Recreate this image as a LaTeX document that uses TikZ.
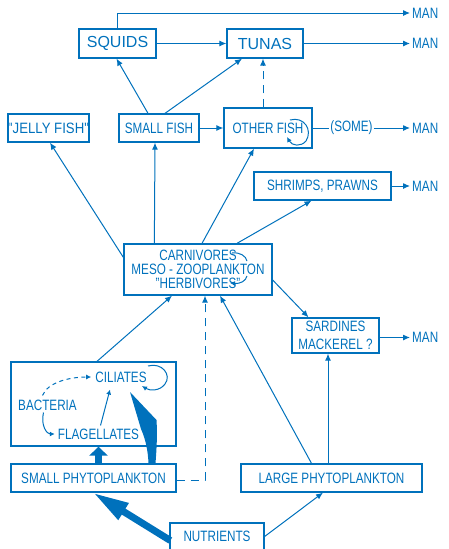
\documentclass[tikz,border=0pt]{standalone}
\usepackage{fontspec}
\setmainfont{Liberation Sans}[FakeStretch=0.78]
\newfontfamily\wideft{Liberation Sans}
\newfontfamily\midft{Liberation Sans}[FakeStretch=0.88]
\usetikzlibrary{arrows.meta,calc}
\definecolor{blu}{RGB}{0,113,188}
\begin{document}
\begin{tikzpicture}[x=1pt,y=-1pt,
  every node/.style={text=blu,font=\fontsize{15}{14}\selectfont},
  box/.style={draw=blu,line width=1.3pt,inner sep=0pt,align=center},
  lbl/.style={inner sep=0pt},
  man/.style={anchor=west,inner sep=0pt},
  ln/.style={draw=blu,line width=1pt},
  arr/.style={ln,-{Latex[length=7pt,width=6pt]}},
  sarr/.style={ln,-{Latex[length=5pt,width=5pt]}},
  dsh/.style={dash pattern=on 8pt off 6pt}]
\useasboundingbox (0,0) rectangle (448,549);

% boxes
\node[box,minimum width=77pt,minimum height=29pt,font=\wideft\fontsize{16}{18}\selectfont] (squids) at (117.5,43.5) {SQUIDS};
\node[box,minimum width=76pt,minimum height=29pt,font=\wideft\fontsize{16}{18}\selectfont] (tunas) at (265,43.5) {TUNAS};
\node[box,minimum width=81pt,minimum height=28pt,font=\midft\fontsize{15}{14}\selectfont] (jelly) at (48.5,128) {"JELLY FISH"};
\node[box,minimum width=80pt,minimum height=28pt] (smallfish) at (159,128) {SMALL FISH};
\node[box,minimum width=88pt,minimum height=40pt] (otherfish) at (268,128) {OTHER FISH};
\node[box,minimum width=137pt,minimum height=28pt] (shrimps) at (322.5,186) {SHRIMPS, PRAWNS};
\node[box,minimum width=148pt,minimum height=51pt] (carn) at (198,269.5) {CARNIVORES\\MESO - ZOOPLANKTON\\"HERBIVORES"};
\node[box,minimum width=87pt,minimum height=35pt,font=\fontsize{15}{18}\selectfont] (sardines) at (335.5,335.5) {SARDINES\\MACKEREL ?};
\node[box,minimum width=165pt,minimum height=84pt] (micro) at (93.5,404) {};
\node[box,minimum width=165pt,minimum height=28pt] (smallphyto) at (93.5,478) {SMALL PHYTOPLANKTON};
\node[box,minimum width=181pt,minimum height=28pt] (largephyto) at (331.5,478) {LARGE PHYTOPLANKTON};
\node[box,minimum width=94pt,minimum height=27pt] (nutrients) at (217,536.5) {NUTRIENTS};

% inner texts
\node[lbl] (ciliates) at (121,377) {CILIATES};
\node[lbl] (bacteria) at (47.5,405) {BACTERIA};
\node[lbl] (flagellates) at (98.5,434) {FLAGELLATES};
\node[lbl,inner sep=1pt] (some) at (351.5,128) {(SOME)};

% MAN labels
\node[man] (man1) at (412,13) {MAN};
\node[man] (man2) at (412,43.5) {MAN};
\node[man] (man3) at (412,128) {MAN};
\node[man] (man4) at (412,186) {MAN};
\node[man] (man5) at (412,337.5) {MAN};

% top connectors
\draw[arr,shorten >=2pt] (squids.north) |- (man1.west);
\draw[arr] (squids) -- (tunas);
\draw[arr,shorten >=2pt] (tunas) -- (man2.west);
\draw[arr] ([xshift=-11pt]smallfish.north) -- ([xshift=-1pt]squids.south);
\draw[arr] ([xshift=6pt]smallfish.north) -- ([xshift=-23pt]tunas.south);
\draw[arr] (smallfish) -- (otherfish);
\draw[arr,dsh] ([xshift=-5pt]otherfish.north) -- ([xshift=-2pt]tunas.south);
\draw[ln] (otherfish) -- (some);
\draw[arr,shorten >=2pt] (some) -- (man3.west);
\draw[arr,shorten >=2pt] (shrimps) -- (man4.west);
\draw[arr,shorten >=2pt] (sardines.east |- man5) -- (man5.west);

% other fish loop
\draw[sarr] (290,120) .. controls (304,116) and (313,130) .. (306,141) .. controls (301,147) and (292,146) .. (287,137);

% carnivores connectors
\draw[arr] ($(carn.north west)+(0,14)$) -- ($(jelly.south)+(1.5,0)$);
\draw[arr] ($(carn.north west)+(31,0)$) -- ($(smallfish.south)+(-4,0)$);
\draw[arr] ($(carn.north)+(4,0)$) -- ($(otherfish.south)+(-14,0)$);
\draw[arr] ($(carn.north)+(39,0)$) -- ($(shrimps.south)+(-11,0)$);
\draw[arr] ($(carn.east)+(0,10.5)$) -- ($(sardines.north)+(-27,0)$);
% carnivores loop
\draw[ln] (232,253) .. controls (240,252) and (246,256) .. (247,261);
\draw[sarr] (247,276) .. controls (246,281) and (240,284) .. (230,283);

% lower connectors
\draw[arr] ($(micro.north)+(3.5,0)$) -- ($(carn.south)+(-26,0)$);
\draw[arr,dsh] ($(smallphyto.east)+(0,2)$) -| ($(carn.south)+(7,0)$);
\draw[arr] ($(largephyto.north)+(-20,0)$) -- ($(carn.south)+(22,0)$);
\draw[arr] ($(largephyto.north)+(-3.5,0)$) -- ($(sardines.south)+(-7.5,0)$);
\draw[arr] (nutrients.east) -- ($(largephyto.south)+(-8.5,0)$);

% microbial loop
\draw[sarr,dash pattern=on 4pt off 3.5pt] ([xshift=-5pt,yshift=4pt]bacteria.north) .. controls +(5,-13) and +(-22,0) .. ([xshift=-4pt]ciliates.west);
\draw[sarr] ([xshift=-4pt,yshift=-2pt]bacteria.south) .. controls +(-3,13) and +(-8,0) .. ([xshift=-3pt]flagellates.west);
\draw[sarr] ([xshift=2pt,yshift=3pt]flagellates.north) -- ([xshift=-11pt,yshift=-7pt]ciliates.south);
\draw[sarr] (148,366) .. controls (162,362) and (172,375) .. (165,384) .. controls (160,391) and (150,391) .. (142,386);

% thick arrows
\draw[blu,line width=6.5pt,-{Triangle[length=9pt,width=18pt]}] ($(smallphyto.north)+(5,0)$) -- ($(micro.south)+(5,0)$);
\fill[blu] (130,392) -- (156.5,420) .. controls (157.5,435) and (156.5,450) .. ($(smallphyto.north)+(62,0)$) -- ($(smallphyto.north)+(55,0)$) .. controls (148,452) and (146,440) .. (141,429) -- cycle;
\draw[blu,line width=7pt,-{Triangle[length=36pt,width=18pt]}] ($(nutrients.west)+(1,4)$) -- ($(smallphyto.south)+(-0.5,0)$);
\end{tikzpicture}
\end{document}
